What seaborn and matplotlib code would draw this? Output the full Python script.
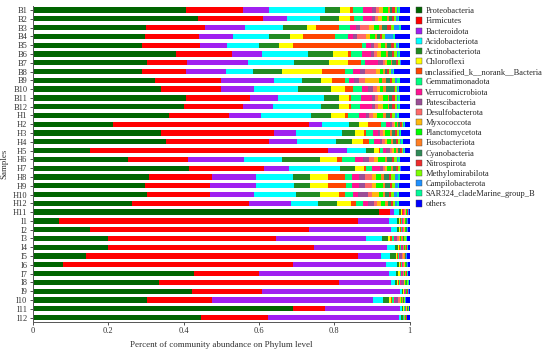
import matplotlib
matplotlib.use("Agg")
import matplotlib.pyplot as plt
from matplotlib.patches import Patch
import pandas as pd
import seaborn as sns

phyla = ["Proteobacteria", "Firmicutes", "Bacteroidota", "Acidobacteriota",
         "Actinobacteriota", "Chloroflexi", "unclassified_k__norank__Bacteria",
         "Gemmatimonadota", "Verrucomicrobiota", "Patescibacteria",
         "Desulfobacterota", "Myxococcota", "Planctomycetota", "Fusobacteriota",
         "Cyanobacteria", "Nitrospirota", "Methylomirabilota", "Campilobacterota",
         "SAR324_cladeMarine_group_B", "others"]

colors = ["#006400", "#FF0000", "#A020F0", "#00FFFF", "#228B22", "#FFFF00",
          "#FF4500", "#00FF7F", "#FF1493", "#9B4F96", "#FF6A6A", "#FFB90F",
          "#00FF00", "#FF7F24", "#2E8B57", "#EE2C2C", "#7FFF00", "#1E90FF",
          "#00FA9A", "#0000FF"]

samples = ["B1", "B2", "B3", "B4", "B5", "B6", "B7", "B8", "B9", "B10", "B11", "B12",
           "H1", "H2", "H3", "H4", "H5", "H6", "H7", "H8", "H9", "H10", "H12", "H11",
           "I1", "I2", "I3", "I4", "I5", "I6", "I7", "I8", "I9", "I10", "I11", "I12"]

# percent abundance, one row per sample, columns in the order of `phyla`
b_rows = [
    [40.6, 15.2, 6.9, 14.8, 3.9, 2.7, 0.9, 2.6, 2.5, 0.9, 0.9, 1.0, 1.3, 0.5, 0.7, 0.6, 0.6, 0.4, 0.3, 2.7],
    [43.8, 17.3, 6.4, 8.8, 4.9, 2.9, 1.1, 2.4, 2.3, 0.9, 0.9, 1.0, 1.3, 0.5, 0.7, 0.6, 0.6, 0.4, 0.3, 2.9],
    [30.0, 15.6, 10.6, 10.2, 6.4, 2.3, 6.1, 2.9, 1.6, 1.1, 2.4, 1.2, 1.5, 0.8, 1.2, 1.0, 1.0, 1.2, 0.7, 2.2],
    [29.7, 14.4, 9.0, 9.6, 5.6, 3.4, 8.4, 3.5, 1.4, 0.9, 2.4, 1.2, 1.3, 0.6, 0.7, 0.6, 0.6, 2.3, 0.4, 4.0],
    [28.9, 15.4, 7.1, 8.6, 5.3, 3.6, 18.3, 1.3, 1.3, 0.8, 0.9, 0.8, 1.0, 0.6, 1.2, 0.6, 0.6, 0.5, 0.3, 2.9],
    [37.9, 14.8, 8.1, 12.2, 6.7, 3.8, 1.0, 2.7, 2.5, 0.9, 0.8, 1.0, 1.4, 0.5, 1.0, 0.6, 0.7, 0.4, 0.3, 2.7],
    [30.3, 10.6, 16.1, 12.2, 9.4, 4.9, 3.5, 1.2, 3.4, 1.2, 0.6, 0.6, 0.9, 0.5, 0.9, 0.5, 0.5, 0.3, 0.2, 2.2],
    [28.9, 11.6, 10.7, 7.2, 7.8, 10.4, 6.2, 2.2, 1.7, 1.4, 2.9, 1.0, 0.8, 0.5, 0.6, 0.5, 0.5, 0.6, 0.3, 4.2],
    [32.5, 17.5, 13.9, 7.6, 4.9, 3.0, 3.4, 1.1, 1.3, 1.4, 1.6, 3.6, 0.9, 1.1, 0.9, 0.6, 0.7, 0.6, 0.7, 2.7],
    [33.9, 16.1, 8.7, 11.7, 8.6, 3.8, 2.2, 2.2, 1.7, 1.4, 0.9, 0.9, 0.9, 0.8, 1.9, 0.4, 0.5, 0.3, 0.3, 2.8],
    [40.6, 17.0, 7.3, 12.3, 4.0, 2.7, 0.5, 2.6, 2.9, 0.9, 0.9, 1.1, 1.3, 0.5, 0.8, 0.6, 0.6, 0.4, 0.3, 2.7],
    [40.1, 15.7, 7.9, 12.8, 4.7, 2.7, 0.4, 2.6, 3.0, 0.9, 0.9, 1.1, 1.3, 0.5, 0.8, 0.6, 0.6, 0.4, 0.3, 2.7],
]

h_rows = [
    [36.2, 15.9, 8.3, 13.3, 5.5, 3.6, 0.9, 2.7, 2.1, 0.6, 1.2, 0.9, 1.7, 0.9, 0.9, 0.7, 0.7, 0.5, 0.5, 2.9],
    [21.3, 52.0, 3.5, 7.0, 2.7, 2.3, 3.7, 1.1, 1.1, 0.5, 0.6, 0.4, 0.5, 0.3, 0.5, 0.4, 0.4, 0.2, 0.2, 1.3],
    [33.9, 30.1, 5.7, 12.2, 3.7, 2.3, 0.4, 2.0, 1.3, 0.6, 0.6, 0.7, 1.2, 0.5, 0.9, 0.5, 0.6, 0.3, 0.3, 2.2],
    [35.3, 27.4, 7.4, 10.2, 4.5, 2.7, 1.8, 1.2, 1.6, 0.6, 0.6, 0.6, 1.2, 0.5, 0.8, 0.5, 0.6, 0.3, 0.3, 1.9],
    [15.1, 63.1, 5.2, 4.9, 2.3, 1.3, 0.3, 0.7, 0.8, 1.0, 0.5, 0.5, 0.7, 0.5, 0.6, 0.4, 0.4, 0.2, 0.2, 1.3],
    [25.1, 16.1, 14.8, 10.0, 10.3, 4.3, 1.5, 3.3, 2.2, 1.5, 1.4, 1.2, 1.8, 0.5, 1.2, 0.6, 0.7, 0.4, 0.4, 2.7],
    [41.5, 19.9, 6.6, 13.6, 4.0, 2.3, 0.4, 1.8, 2.1, 0.6, 0.6, 0.6, 1.1, 0.4, 0.8, 0.5, 0.5, 0.3, 0.2, 2.2],
    [30.9, 16.6, 11.7, 9.8, 4.5, 4.8, 4.5, 2.0, 1.7, 1.7, 1.9, 0.9, 1.5, 0.6, 1.3, 0.7, 0.9, 0.8, 0.5, 2.7],
    [29.7, 17.2, 12.3, 10.0, 4.3, 4.8, 4.7, 1.8, 1.8, 1.6, 1.9, 1.0, 1.7, 0.6, 1.3, 0.7, 0.8, 0.7, 0.2, 2.9],
    [30.3, 16.6, 11.8, 11.0, 6.4, 5.1, 1.6, 2.2, 1.3, 2.7, 1.1, 1.7, 1.1, 0.6, 1.0, 0.6, 0.7, 0.9, 0.5, 2.8],
    [26.2, 31.2, 11.0, 7.3, 5.1, 3.7, 1.2, 1.9, 1.3, 1.5, 0.9, 1.0, 1.2, 0.7, 0.9, 0.5, 0.6, 0.5, 0.4, 2.9],
    [91.8, 3.1, 1.1, 1.3, 0.5, 0.3, 0.1, 0.2, 0.2, 0.1, 0.2, 0.2, 0.2, 0.1, 0.1, 0.1, 0.1, 0.1, 0.0, 0.3],
]

i_rows = [
    [6.9, 79.4, 8.2, 2.0, 0.6, 0.3, 0.2, 0.3, 0.2, 0.2, 0.2, 0.2, 0.2, 0.1, 0.2, 0.1, 0.1, 0.1, 0.1, 0.4],
    [15.1, 58.2, 21.7, 1.5, 0.6, 0.3, 0.2, 0.3, 0.2, 0.2, 0.2, 0.2, 0.2, 0.1, 0.2, 0.1, 0.1, 0.1, 0.1, 0.4],
    [20.0, 44.5, 23.8, 4.4, 1.5, 0.6, 0.5, 0.4, 0.5, 0.5, 0.4, 0.3, 0.4, 0.3, 0.3, 0.2, 0.3, 0.2, 0.2, 0.7],
    [19.8, 54.7, 19.3, 2.2, 0.8, 0.3, 0.2, 0.3, 0.3, 0.2, 0.2, 0.2, 0.2, 0.1, 0.2, 0.1, 0.1, 0.1, 0.1, 0.5],
    [14.0, 72.3, 6.0, 2.4, 1.6, 0.3, 0.2, 0.3, 0.3, 0.6, 0.2, 0.2, 0.2, 0.1, 0.2, 0.1, 0.1, 0.1, 0.1, 0.7],
    [8.0, 61.0, 24.8, 2.7, 0.6, 0.3, 0.2, 0.3, 0.2, 0.2, 0.2, 0.2, 0.2, 0.1, 0.2, 0.1, 0.1, 0.1, 0.1, 0.4],
    [42.7, 17.3, 34.4, 1.9, 0.7, 0.3, 0.2, 0.3, 0.2, 0.2, 0.2, 0.2, 0.2, 0.1, 0.2, 0.1, 0.1, 0.1, 0.1, 0.5],
    [33.5, 47.7, 13.8, 1.0, 0.6, 0.3, 0.2, 0.3, 0.2, 0.8, 0.2, 0.2, 0.2, 0.1, 0.2, 0.1, 0.1, 0.1, 0.1, 0.3],
    [42.1, 18.8, 36.6, 0.5, 0.3, 0.1, 0.1, 0.1, 0.1, 0.2, 0.1, 0.1, 0.1, 0.1, 0.1, 0.1, 0.1, 0.1, 0.0, 0.3],
    [30.3, 17.3, 42.9, 2.6, 1.5, 0.5, 0.4, 0.4, 0.4, 0.7, 0.5, 0.3, 0.3, 0.2, 0.3, 0.2, 0.2, 0.2, 0.1, 0.9],
    [69.0, 8.5, 19.8, 0.5, 0.3, 0.2, 0.1, 0.2, 0.1, 0.2, 0.1, 0.1, 0.1, 0.1, 0.1, 0.1, 0.1, 0.1, 0.0, 0.2],
    [44.6, 17.7, 34.8, 0.7, 0.3, 0.1, 0.1, 0.1, 0.1, 0.1, 0.1, 0.1, 0.1, 0.1, 0.1, 0.1, 0.1, 0.1, 0.0, 0.6],
]

records = []
for s, vals in zip(samples, b_rows + h_rows + i_rows):
    for p, v in zip(phyla, vals):
        records.append((s, p, v / 100))
df = pd.DataFrame(records, columns=["sample", "phylum", "abundance"])

sns.set_style("ticks")
plt.rcParams["font.family"] = ["Liberation Serif", "DejaVu Serif"]

fig = plt.figure(figsize=(5.5, 3.53), dpi=100)
ax = fig.add_axes([0.06, 0.088, 0.685, 0.896])

palette = dict(zip(phyla, colors))
# histplot stacks the last hue level first, so reverse to put Proteobacteria on the left
sns.histplot(data=df, y="sample", hue="phylum", weights="abundance",
             hue_order=phyla[::-1], multiple="fill", discrete=True, shrink=0.6,
             palette=palette, linewidth=0, alpha=1, legend=False, ax=ax)

ax.set_ylim(35.5, -0.5)
ax.set_xlim(0, 1)
ax.set_xticks([0, 0.2, 0.4, 0.6, 0.8, 1])
ax.set_xticklabels(["0", "0.2", "0.4", "0.6", "0.8", "1"])
ax.tick_params(axis="both", labelsize=6, colors="#333333", length=2.5, width=0.6, pad=1.5)
for side in ["top", "right"]:
    ax.spines[side].set_visible(False)
for side in ["left", "bottom"]:
    ax.spines[side].set_color("#555555")
    ax.spines[side].set_linewidth(0.7)

ax.set_xlabel("Percent of community abundance on Phylum level", fontsize=6.5, color="#333333", labelpad=4)
ax.set_ylabel("Samples", fontsize=6.5, color="#333333", labelpad=3)

handles = [Patch(facecolor=c, edgecolor="#444444", linewidth=0.3, label=p) for p, c in zip(phyla, colors)]
ax.legend(handles=handles, loc="upper left", bbox_to_anchor=(1.017, 0.995), frameon=False,
          fontsize=6, handlelength=0.75, handleheight=0.75, handletextpad=0.35,
          labelspacing=0.26, borderaxespad=0, borderpad=0)

fig.savefig("out.png", dpi=100)
